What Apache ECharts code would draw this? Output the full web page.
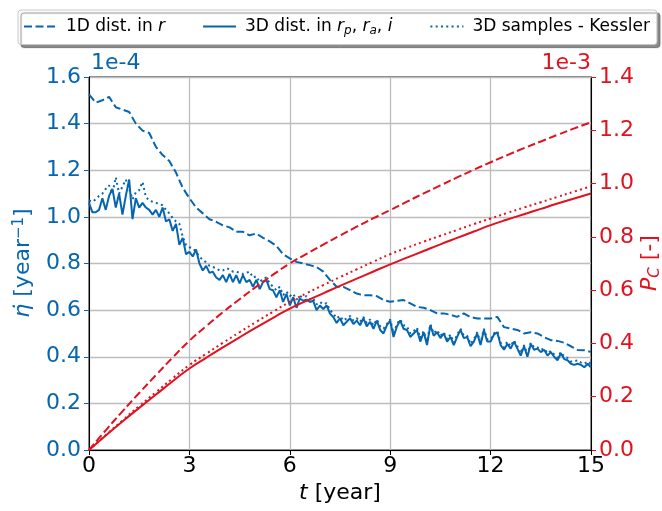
<!DOCTYPE html>
<html>
<head>
<meta charset="utf-8">
<script src="https://cdn.jsdelivr.net/npm/echarts@6/dist/echarts.min.js"></script>
<style>
  html, body { margin: 0; padding: 0; background: #fff; }
  #chart { width: 662px; height: 511px; }
</style>
</head>
<body>
<div id="chart"></div>
<script>
// Collision rate (left axis, units of 1e-4 per year) and cumulative probability (right axis, units of 1e-3)
const BLUE = '#0565b0';
const RED = '#e0121f';

// time grids [year]
const step3D = 0.1;   // 3D distribution and Kessler samples
const step1D = 0.2;   // 1D distribution
const stepPc = 0.5;   // cumulative probabilities

// eta-dot, 1D distribution in r
const eta1D = [
  1.525, 1.49, 1.50, 1.515, 1.47, 1.46, 1.45, 1.40, 1.37, 1.36,
  1.30, 1.265, 1.24, 1.19, 1.125, 1.08, 1.04, 1.015, 0.99, 0.979,
  0.964, 0.955, 0.936, 0.936, 0.921, 0.929, 0.91, 0.895, 0.875, 0.84,
  0.822, 0.807, 0.80, 0.793, 0.785, 0.765, 0.73, 0.70, 0.70, 0.686,
  0.671, 0.664, 0.664, 0.66, 0.643, 0.636, 0.64, 0.643, 0.629, 0.614,
  0.61, 0.60, 0.586, 0.586, 0.58, 0.571, 0.586, 0.57, 0.564, 0.564,
  0.564, 0.571, 0.527, 0.521, 0.515, 0.50, 0.505, 0.50, 0.484, 0.471,
  0.468, 0.46, 0.445, 0.429, 0.428, 0.421
];

// eta-dot, 3D distribution in rp, ra, i
const eta3D = [
  1.06, 1.02, 1.02, 1.03, 1.08, 1.03, 1.09, 1.12, 1.04, 1.10,
  1.01, 1.09, 1.16, 0.99, 1.08, 1.04, 1.06, 1.04, 1.03, 1.01,
  1.03, 1.00, 1.04, 0.98, 0.99, 0.94, 0.97, 0.88, 0.91, 0.84,
  0.85, 0.83, 0.86, 0.80, 0.77, 0.79, 0.76, 0.765, 0.74, 0.73,
  0.75, 0.72, 0.755, 0.72, 0.75, 0.715, 0.75, 0.72, 0.73, 0.70,
  0.73, 0.69, 0.72, 0.73, 0.69, 0.685, 0.655, 0.685, 0.635, 0.67,
  0.62, 0.655, 0.61, 0.65, 0.64, 0.645, 0.635, 0.64, 0.60, 0.62,
  0.605, 0.62, 0.585, 0.57, 0.545, 0.565, 0.535, 0.55, 0.565, 0.54,
  0.555, 0.535, 0.565, 0.53, 0.55, 0.52, 0.555, 0.515, 0.50, 0.535,
  0.555, 0.485, 0.53, 0.555, 0.52, 0.515, 0.485, 0.50, 0.515, 0.465,
  0.505, 0.45, 0.535, 0.49, 0.505, 0.48, 0.50, 0.465, 0.485, 0.45,
  0.485, 0.515, 0.48, 0.485, 0.445, 0.465, 0.50, 0.45, 0.515, 0.465,
  0.465, 0.495, 0.505, 0.45, 0.43, 0.455, 0.435, 0.465, 0.435, 0.405,
  0.445, 0.40, 0.455, 0.43, 0.435, 0.42, 0.43, 0.405, 0.42, 0.40,
  0.385, 0.415, 0.39, 0.385, 0.37, 0.365, 0.37, 0.365, 0.355, 0.37,
  0.355
];

// eta-dot, 3D samples (Kessler)
const etaKessler = [
  1.07, 1.065, 1.075, 1.09, 1.10, 1.12, 1.135, 1.10, 1.17, 1.10,
  1.13, 1.16, 1.12, 1.075, 1.105, 1.115, 1.15, 1.085, 1.07, 1.065,
  1.06, 1.055, 1.05, 1.03, 1.015, 0.995, 0.98, 0.97, 0.915, 0.88,
  0.87, 0.865, 0.85, 0.83, 0.815, 0.805, 0.79, 0.785, 0.78, 0.77,
  0.77, 0.78, 0.775, 0.765, 0.765, 0.76, 0.755, 0.76, 0.765, 0.74,
  0.745, 0.72, 0.735, 0.74, 0.715, 0.70, 0.685, 0.70, 0.665, 0.68,
  0.66, 0.67, 0.645, 0.66, 0.655, 0.66, 0.645, 0.65, 0.625, 0.635,
  0.625, 0.63, 0.60, 0.585, 0.565, 0.575, 0.555, 0.565, 0.575, 0.555,
  0.565, 0.55, 0.57, 0.545, 0.56, 0.535, 0.56, 0.53, 0.52, 0.54,
  0.56, 0.50, 0.54, 0.56, 0.535, 0.53, 0.50, 0.51, 0.525, 0.48,
  0.51, 0.465, 0.54, 0.50, 0.515, 0.49, 0.505, 0.475, 0.495, 0.46,
  0.495, 0.52, 0.49, 0.49, 0.455, 0.475, 0.505, 0.46, 0.52, 0.475,
  0.475, 0.50, 0.51, 0.46, 0.44, 0.465, 0.445, 0.47, 0.445, 0.415,
  0.45, 0.41, 0.46, 0.44, 0.44, 0.43, 0.435, 0.415, 0.425, 0.41,
  0.395, 0.42, 0.40, 0.395, 0.38, 0.38, 0.385, 0.375, 0.37, 0.38,
  0.37
];

// cumulative collision probability P_C
const pc1D = [
  0, 0.074, 0.145, 0.214, 0.281, 0.347, 0.41, 0.465, 0.517, 0.566, 0.613,
  0.658, 0.70, 0.736, 0.771, 0.805, 0.838, 0.870, 0.90, 0.932, 0.963,
  0.993, 1.023, 1.052, 1.08, 1.107, 1.133, 1.158, 1.183, 1.207, 1.23
];
const pc3D = [
  0, 0.054, 0.107, 0.158, 0.208, 0.258, 0.306, 0.346, 0.385, 0.423, 0.460,
  0.496, 0.531, 0.560, 0.588, 0.616, 0.643, 0.670, 0.697, 0.722, 0.747,
  0.772, 0.796, 0.820, 0.844, 0.865, 0.885, 0.905, 0.925, 0.944, 0.963
];
const pcKessler = [
  0, 0.056, 0.111, 0.165, 0.217, 0.269, 0.319, 0.361, 0.402, 0.442, 0.481,
  0.519, 0.556, 0.588, 0.619, 0.649, 0.678, 0.707, 0.735, 0.759, 0.782,
  0.804, 0.826, 0.848, 0.869, 0.890, 0.910, 0.930, 0.950, 0.970, 0.990
];

// axis ticks
const tTicks = { min: 0, max: 15, interval: 3 };
const etaTicks = { min: 0, max: 1.6, interval: 0.2 };
const pcTicks = { min: 0, max: 1.4, interval: 0.2 };

const legendLabels = {
  'eta1D': '1D dist. in {i|r}',
  'eta3D': '3D dist. in {i|r}{sub|p}{n|, }{i|r}{sub|a}{n|, }{i|i}',
  'etaKessler': '3D samples - Kessler'
};

function pairs(step, values) {
  return values.map((v, i) => [+(i * step).toFixed(2), v]);
}

const FONT = 'DejaVu Sans';
const TICK_FS = 22;
const chart = echarts.init(document.getElementById('chart'), null, { renderer: 'canvas' });

const gridCol = '#bdbdbd';

chart.setOption({
  animation: false,
  backgroundColor: '#ffffff',
  textStyle: { fontFamily: FONT },
  grid: {
    left: 89, right: 71, top: 77, bottom: 61,
    show: true, borderColor: '#000', borderWidth: 1, backgroundColor: 'transparent'
  },
  legend: {
    data: ['eta1D', 'eta3D', 'etaKessler'],
    left: 18, top: 10,
    padding: [8, 7, 8, 5],
    itemWidth: 33, itemHeight: 14,
    itemGap: 37,
    backgroundColor: '#fff',
    borderColor: '#c8c8c8', borderWidth: 1, borderRadius: 3,
    shadowColor: 'rgba(0,0,0,0.45)', shadowBlur: 1, shadowOffsetX: 3, shadowOffsetY: 3,
    itemStyle: { opacity: 0 },
    formatter: name => legendLabels[name],
    textStyle: {
      fontFamily: FONT, fontSize: 17, color: '#000', padding: [0, 0, 0, 4],
      rich: {
        i: { fontFamily: FONT, fontStyle: 'italic', fontSize: 17, color: '#000' },
        n: { fontFamily: FONT, fontSize: 17, color: '#000' },
        sub: { fontFamily: FONT, fontStyle: 'italic', fontSize: 12, color: '#000', verticalAlign: 'bottom', padding: [8, 0, 0, 0] }
      }
    }
  },
  xAxis: {
    type: 'value', ...tTicks,
    name: '{i|t} [year]',
    nameLocation: 'middle', nameGap: 31,
    nameTextStyle: {
      fontFamily: FONT, fontSize: 22, color: '#000',
      rich: { i: { fontFamily: FONT, fontStyle: 'italic', fontSize: 22, color: '#000' } }
    },
    axisLine: { show: true, onZero: false, lineStyle: { color: '#000', width: 1 } },
    axisTick: { show: true, inside: false, length: 5, lineStyle: { color: '#000', width: 1 } },
    axisLabel: { fontFamily: FONT, fontSize: TICK_FS, color: '#000', margin: 5 },
    splitLine: { show: true, lineStyle: { color: gridCol, width: 1.3 } }
  },
  yAxis: [
    {
      type: 'value', ...etaTicks, position: 'left',
      axisLine: { show: true, lineStyle: { color: '#000', width: 1 } },
      axisTick: { show: true, inside: false, length: 5, lineStyle: { color: BLUE, width: 1 } },
      axisLabel: { fontFamily: FONT, fontSize: TICK_FS, color: BLUE, margin: 8, formatter: v => v.toFixed(1) },
      splitLine: { show: true, lineStyle: { color: gridCol, width: 1.3 } }
    },
    {
      type: 'value', ...pcTicks, position: 'right',
      axisLine: { show: true, lineStyle: { color: '#000', width: 1 } },
      axisTick: { show: true, inside: false, length: 5, lineStyle: { color: RED, width: 1 } },
      axisLabel: { fontFamily: FONT, fontSize: TICK_FS, color: RED, margin: 8, formatter: v => v.toFixed(1) },
      splitLine: { show: false }
    }
  ],
  graphic: [
    { type: 'text', x: 91, y: 63, style: { text: '1e-4', font: TICK_FS + 'px "DejaVu Sans"', fill: BLUE, textAlign: 'left', textVerticalAlign: 'middle' } },
    { type: 'text', x: 591, y: 63, style: { text: '1e-3', font: TICK_FS + 'px "DejaVu Sans"', fill: RED, textAlign: 'right', textVerticalAlign: 'middle' } },
    {
      type: 'text', x: 23, y: 263, rotation: Math.PI / 2,
      style: {
        text: '{i|\u03B7\u0307} [year{sup|\u22121}]',
        fill: BLUE, font: '22px "DejaVu Sans"', textAlign: 'center', textVerticalAlign: 'middle',
        rich: {
          i: { fontStyle: 'italic', fontSize: 22, fontFamily: FONT, fill: BLUE },
          sup: { fontSize: 15, fontFamily: FONT, fill: BLUE, verticalAlign: 'top', padding: [0, 0, 8, 0] }
        }
      }
    },
    {
      type: 'text', x: 650, y: 263, rotation: Math.PI / 2,
      style: {
        text: '{i|P}{sub|C} [-]',
        fill: RED, font: '22px "DejaVu Sans"', textAlign: 'center', textVerticalAlign: 'middle',
        rich: {
          i: { fontStyle: 'italic', fontSize: 22, fontFamily: FONT, fill: RED },
          sub: { fontStyle: 'italic', fontSize: 15, fontFamily: FONT, fill: RED, verticalAlign: 'bottom', padding: [10, 0, 0, 0] }
        }
      }
    }
  ],
  series: [
    {
      name: 'eta1D', type: 'line', yAxisIndex: 0, data: pairs(step1D, eta1D),
      symbol: 'none', showSymbol: false, smooth: false, color: BLUE,
      lineStyle: { color: BLUE, width: 2, type: [8, 3.5] }
    },
    {
      name: 'eta3D', type: 'line', yAxisIndex: 0, data: pairs(step3D, eta3D),
      symbol: 'none', showSymbol: false, smooth: false, color: BLUE,
      lineStyle: { color: BLUE, width: 2, type: 'solid' }
    },
    {
      name: 'etaKessler', type: 'line', yAxisIndex: 0, data: pairs(step3D, etaKessler),
      symbol: 'none', showSymbol: false, smooth: false, color: BLUE,
      lineStyle: { color: BLUE, width: 2, type: [2, 3.3] }
    },
    {
      name: 'pc1D', type: 'line', yAxisIndex: 1, data: pairs(stepPc, pc1D),
      symbol: 'none', smooth: true, color: RED,
      lineStyle: { color: RED, width: 2, type: [8, 3.5] }
    },
    {
      name: 'pc3D', type: 'line', yAxisIndex: 1, data: pairs(stepPc, pc3D),
      symbol: 'none', smooth: true, color: RED,
      lineStyle: { color: RED, width: 2, type: 'solid' }
    },
    {
      name: 'pcKessler', type: 'line', yAxisIndex: 1, data: pairs(stepPc, pcKessler),
      symbol: 'none', smooth: true, color: RED,
      lineStyle: { color: RED, width: 2, type: [2, 3.3] }
    }
  ]
});
</script>
</body>
</html>
